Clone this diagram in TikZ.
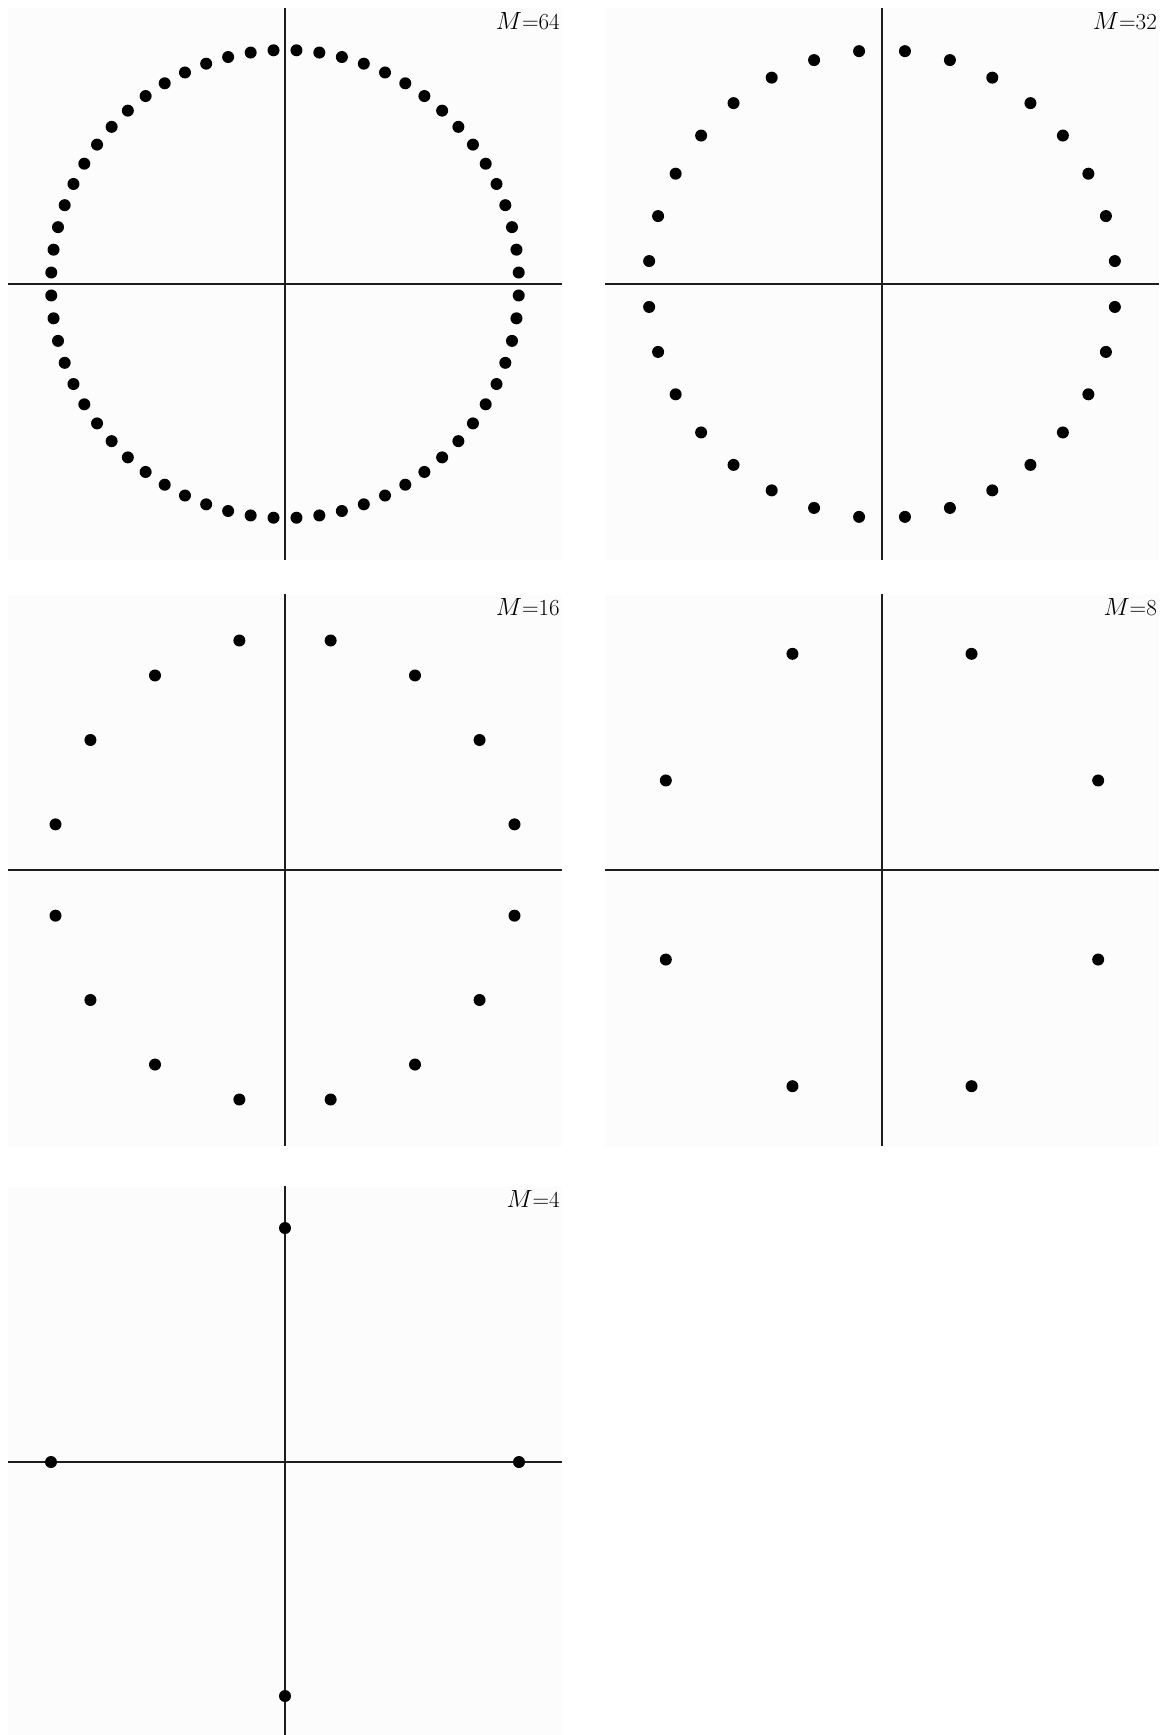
\documentclass[tikz,border=0pt]{standalone}
\usepackage{tikz}
\usepackage{xcolor}
\definecolor{PanelGray}{HTML}{FCFCFC}
\definecolor{AxisBlack}{HTML}{1E1E1E}

\begin{document}
\begin{tikzpicture}[x=1pt,y=-1pt]
  \useasboundingbox (0,0) rectangle (1160,1735);
  \fill[white] (0,0) rectangle (1160,1735);
  % centre x / centre y / M / half-step offset / name
  \foreach \cx/\cy/\m/\off/\name in {285/284/64/1/a, 882/284/32/1/b, 285/870/16/1/c, 882/870/8/1/d, 285/1462/4/0/e} {
    \fill[PanelGray] (\cx-277,\cy-276) rectangle (\cx+277,{min(\cy+276,1735)});
    \draw[AxisBlack, line width=1.8pt] (\cx-277,\cy) -- (\cx+277,\cy);
    \draw[AxisBlack, line width=1.8pt] (\cx,\cy-276) -- (\cx,{min(\cy+276,1735)});
    \foreach \k in {1,...,\m}
      \fill (\cx,\cy) ++({(2*\k-\off)*(180/\m)}:234) circle (6);
    \node[font=\fontsize{23}{27}\selectfont, anchor=base east, inner sep=0pt] (lbl\name) at (\cx+275,\cy-255) {$M$=\m};
  }
\end{tikzpicture}
\end{document}
